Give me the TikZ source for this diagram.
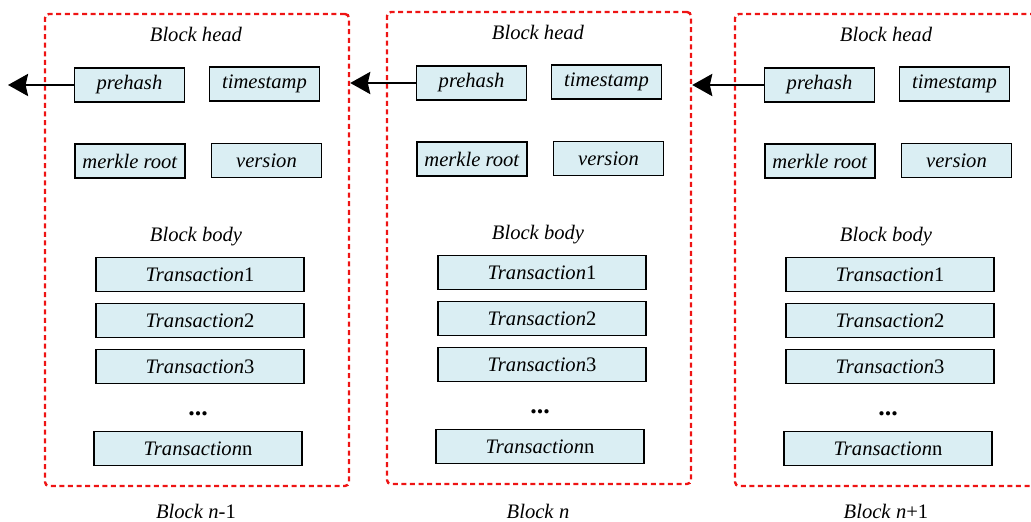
\documentclass[tikz,border=0pt]{standalone}
\usepackage{fontspec}
\setmainfont{Liberation Serif}
\usetikzlibrary{arrows.meta}

\definecolor{cellblue}{RGB}{218,238,243}
\definecolor{framered}{RGB}{238,20,20}

\tikzset{
  field/.style={draw, fill=cellblue, line width=0.7pt, inner sep=0pt,
    minimum width=55pt, minimum height=17pt},
  txbox/.style={field, minimum width=104pt},
  frame/.style={draw=framered, line width=1.2pt, dash pattern=on 2.5pt off 1.8pt,
    rounded corners=2pt, minimum width=152pt, minimum height=236pt},
  link/.style={line width=1.4pt, -{Stealth[length=10pt, width=11pt, inset=1.2pt]}}
}

\begin{document}
\begin{tikzpicture}[x=0.5pt, y=-0.5pt, font=\fontsize{10.3}{12}\selectfont]
        \useasboundingbox (0,0) rectangle (1031,522);

        % three blocks side by side: index / x shift / y shift / label
        \foreach \i/\x/\dy/\lab in {1/0/0/{\textit{n}-1}, 2/342/-2/{\textit{n}}, 3/690/0/{\textit{n}+1}} {
          % dashed outline
          \node[frame] (frame\i) at (\x+197, \dy+250) {};

          % head fields
          \node (head\i) at (\x+196, \dy+34) {\textit{Block head}};
          \node[field] (pre\i) at (\x+129.5, \dy+85) {\textit{prehash}};
          \node[field] (time\i) at (\x+264.5, \dy+84) {\textit{timestamp}};
          \node[field] (root\i) at (\x+130, \dy+161) {\textit{merkle root}};
          \node[field] (ver\i) at (\x+266.5, \dy+160.5) {\textit{version}};

          % body with transactions
          \node (body\i) at (\x+196, \dy+237) {\textit{Block body}};
          \node[txbox] (tx\i a) at (\x+200, \dy+274.5) {\textit{Transaction}1};
          \node[txbox] (tx\i b) at (\x+200, \dy+320.5) {\textit{Transaction}2};
          \node[txbox] (tx\i c) at (\x+200, \dy+366.5) {\textit{Transaction}3};
          \node[font=\fontsize{13}{14}\selectfont\bfseries] (dots\i) at (\x+198, \dy+414) {...};
          \node[txbox] (tx\i n) at (\x+198, \dy+448.5) {\textit{Transaction}n};

          % caption under the block
          \node (cap\i) at (\x+196, 511) {\textit{Block} \lab};
        }

        % hash pointers to the previous block
        \coordinate (out) at (8,87);
        \draw[link] (pre1.west) -- (pre1.west -| out);
        \draw[link] (pre2.west) -- (pre2.west -| frame1.east);
        \draw[link] (pre3.west) -- (pre3.west -| frame2.east);
\end{tikzpicture}
\end{document}
